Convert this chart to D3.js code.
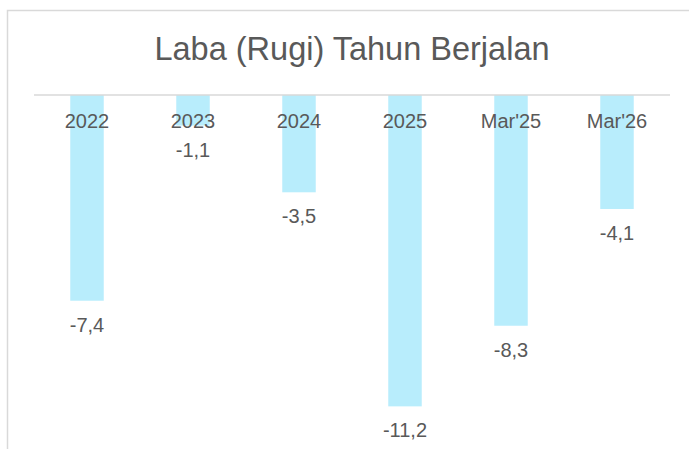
<!DOCTYPE html>
<html>
<head>
<meta charset="utf-8">
<script src="https://cdn.jsdelivr.net/npm/d3@7"></script>
<style>
  body { margin: 0; background: #fff; }
  text { font-family: "Liberation Sans", Arial, sans-serif; fill: #595959; }
</style>
</head>
<body>
<script>
  const categories = ["2022", "2023", "2024", "2025", "Mar'25", "Mar'26"];
  const values = [-7.4, -1.1, -3.5, -11.2, -8.3, -4.1];
  const title = "Laba (Rugi) Tahun Berjalan";

  const w = 689;
  const h = 449;

  const svg = d3.select("body")
                .append("svg")
                .attr("width", w)
                .attr("height", h);

  // chart area border, runs off the right and bottom edges
  svg.append("rect")
     .attr("x", 7.5)
     .attr("y", 10.5)
     .attr("width", 700)
     .attr("height", 460)
     .attr("fill", "#fff")
     .attr("stroke", "#d9d9d9")
     .attr("stroke-width", 1.5);

  svg.append("text")
     .attr("x", 352)
     .attr("y", 60)
     .attr("text-anchor", "middle")
     .style("font-size", "32.5px")
     .text(title);

  const x = d3.scaleBand()
              .domain(categories)
              .range([34, 670])
              .paddingInner(0.684)
              .paddingOuter(0.342);

  const y = d3.scaleLinear()
              .domain([-12, 0])
              .range([428.6, 95]);

  svg.selectAll("rect.bar")
     .data(values)
     .enter()
     .append("rect")
     .attr("class", "bar")
     .attr("x", (d, i) => x(categories[i]))
     .attr("y", y(0))
     .attr("width", x.bandwidth())
     .attr("height", d => y(d) - y(0))
     .attr("fill", "#b8edfc");

  // baseline at zero
  svg.append("line")
     .attr("x1", x.range()[0])
     .attr("x2", x.range()[1])
     .attr("y1", y(0))
     .attr("y2", y(0))
     .attr("stroke", "#d9d9d9")
     .attr("stroke-width", 1.5);

  svg.selectAll("text.cat")
     .data(categories)
     .enter()
     .append("text")
     .attr("class", "cat")
     .attr("x", d => x(d) + x.bandwidth() / 2)
     .attr("y", 127.5)
     .attr("text-anchor", "middle")
     .style("font-size", "20px")
     .text(d => d);

  svg.selectAll("text.val")
     .data(values)
     .enter()
     .append("text")
     .attr("class", "val")
     .attr("x", (d, i) => x(categories[i]) + x.bandwidth() / 2)
     .attr("y", d => y(d) + 31)
     .attr("text-anchor", "middle")
     .style("font-size", "20px")
     .text(d => d3.format(".1f")(d).replace(".", ",").replace("−", "-"));
</script>
</body>
</html>
